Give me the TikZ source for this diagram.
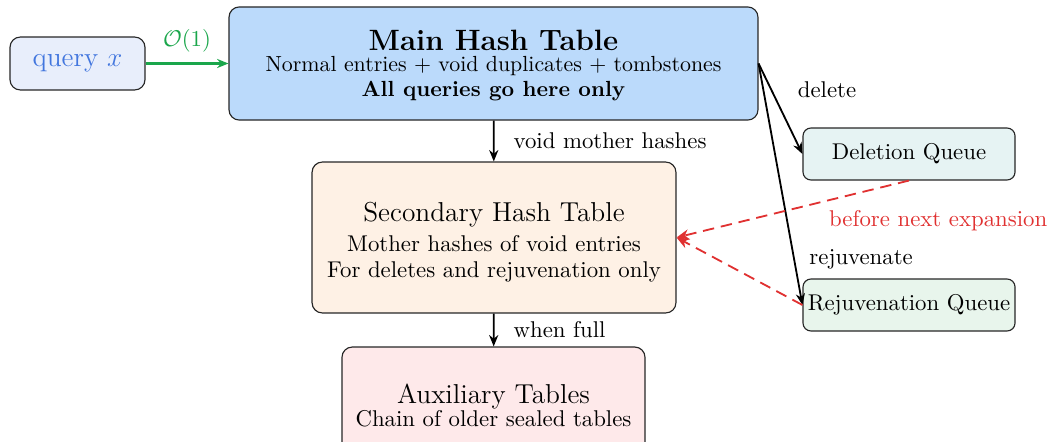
\documentclass[tikz,border=0pt]{standalone}
\usetikzlibrary{arrows.meta}
\definecolor{queryfill}{RGB}{232,238,251}
\definecolor{querytext}{RGB}{66,118,222}
\definecolor{mainfill}{RGB}{187,218,251}
\definecolor{secfill}{RGB}{254,241,229}
\definecolor{auxfill}{RGB}{254,233,234}
\definecolor{delfill}{RGB}{230,243,243}
\definecolor{rejfill}{RGB}{232,245,236}
\definecolor{fastgreen}{RGB}{26,166,75}
\definecolor{laterred}{RGB}{224,49,49}
\begin{document}
\begin{tikzpicture}[
  x=0.4386pt, y=-0.4386pt,
  box/.style={draw=black!85, line width=0.5pt, rounded corners=4.5pt, align=center, inner sep=2pt},
  queue/.style={box, rounded corners=3.5pt, minimum width=93pt, minimum height=22.8pt},
  flow/.style={-{Stealth[length=5pt,width=4pt]}, line width=0.8pt, black},
  later/.style={-{Stealth[length=5.5pt,width=4.5pt]}, line width=0.8pt, laterred, dash pattern=on 5pt off 3pt},
  lbl/.style={font=\normalsize, text=black}
]
\useasboundingbox (0,0) rectangle (1048,441);

% tables and queues
\node[box, fill=queryfill, minimum width=59.2pt, minimum height=23.2pt, text=querytext, font=\large]
  (query) at (77.5,63.5) {query $x$};
\node[box, fill=mainfill, minimum width=232pt, minimum height=49.6pt]
  (main) at (493.5,63.5)
  {{\fontsize{12.9}{15.5}\selectfont\bfseries\rule{0pt}{11pt}Main Hash Table}\\[-2.9pt]
   {\fontsize{9.6}{11.5}\selectfont Normal entries + void duplicates + tombstones}\\[-1pt]
   {\fontsize{9.6}{11.5}\selectfont\bfseries All queries go here only}};
\node[box, fill=secfill, minimum width=159.6pt, minimum height=66.2pt]
  (sec) at (494,237.5)
  {{\large\rule{0pt}{12.7pt}Secondary Hash Table}\\[1.2pt]
   Mother hashes of void entries\\[-0.6pt]
   For deletes and rejuvenation only};
\node[box, fill=auxfill, minimum width=132.9pt, minimum height=51.3pt]
  (aux) at (493.5,405.5)
  {{\large Auxiliary Tables}\\[-1.7pt]
   Chain of older sealed tables};
\node[queue, fill=delfill] (del) at (909,154) {Deletion Queue};
\node[queue, fill=rejfill] (rej) at (909,305) {Rejuvenation Queue};

% lookups
\draw[-{Stealth[length=5pt,width=4pt]}, line width=1.1pt, fastgreen]
  (query) -- node[above=1pt, text=fastgreen] {$\mathcal{O}(1)$} (main);

% maintenance paths
\draw[flow] (main) -- node[lbl, right, xshift=5pt] {void mother hashes} (sec);
\draw[flow] (sec) -- node[lbl, right, xshift=5pt] {when full} (aux);
\draw[flow] (main.east) -- node[lbl, pos=0.5, above right, xshift=3.9pt, yshift=1.3pt] {delete} (del.west);
\draw[flow] (main.east) -- node[lbl, pos=0.8, right, xshift=3.2pt, yshift=-1.3pt] {rejuvenate} (rej.west);

% deferred work
\draw[later] (del.south) -- node[pos=0.38, below right, text=laterred] {before next expansion} (sec.east);
\draw[later] (rej.west) -- (sec.east);
\end{tikzpicture}
\end{document}
